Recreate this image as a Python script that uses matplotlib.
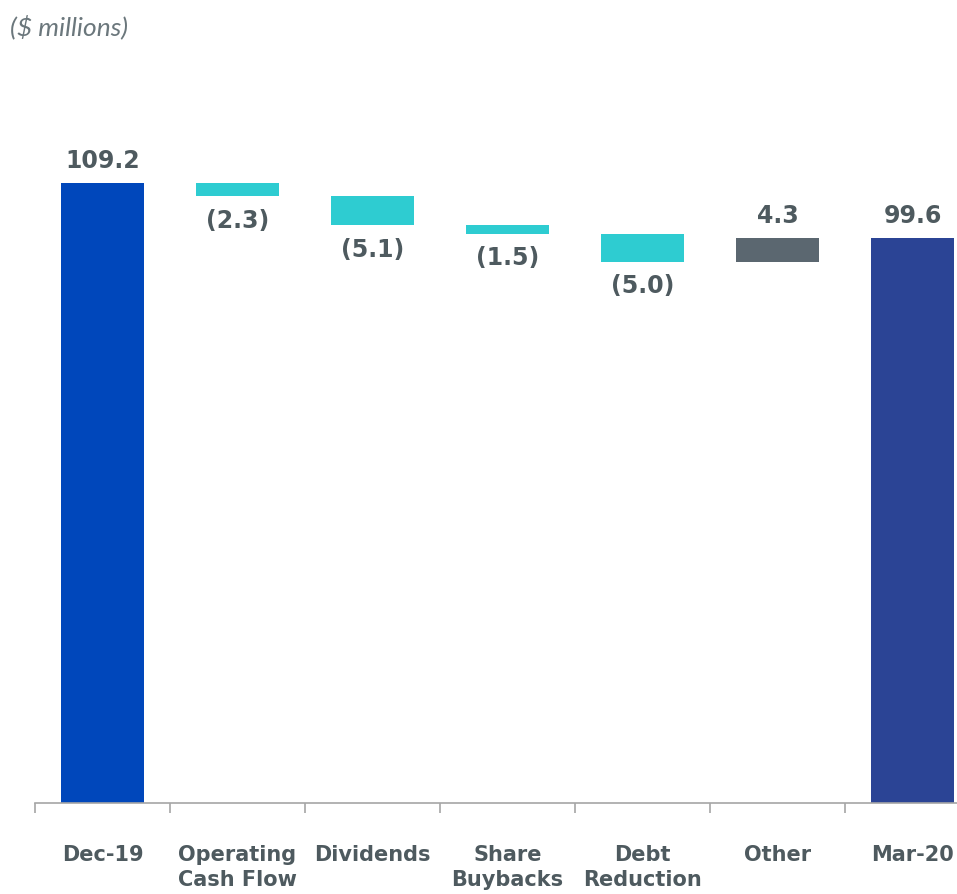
import numpy as np
import matplotlib.pyplot as plt
from matplotlib.ticker import FixedLocator

# waterfall data ($ millions)
categories = ['Dec-19', 'Operating\nCash Flow', 'Dividends', 'Share\nBuybacks',
              'Debt\nReduction', 'Other', 'Mar-20']
changes = [109.2, -2.3, -5.1, -1.5, -5.0, 4.3, 99.6]
value_labels = ['109.2', '(2.3)', '(5.1)', '(1.5)', '(5.0)', '4.3', '99.6']
kinds = ['total', 'delta', 'delta', 'delta', 'delta', 'delta', 'total']

text_col = '#4E5A5F'
colors = {'start': '#0047BB', 'end': '#2B4495', 'neg': '#2ECCD1', 'pos': '#5B6770'}

fig = plt.figure(figsize=(9.57, 8.94), dpi=100)
# axes run from the first category boundary past the right edge of the figure
ax = fig.add_axes([35 / 957, 91 / 894, 945 / 957, 803 / 894])

x = np.arange(len(categories))
running = 0.0
for i, (v, k) in enumerate(zip(changes, kinds)):
    if k == 'total':
        bottom, height = 0, v
        col = colors['start'] if i == 0 else colors['end']
        running = v
    else:
        bottom = running if v > 0 else running + v
        height = abs(v)
        col = colors['pos'] if v > 0 else colors['neg']
        running += v
    ax.bar(x[i], height, bottom=bottom, width=0.62, color=col, zorder=2)
    if v > 0:
        ax.annotate(value_labels[i], (x[i], bottom + height), xytext=(0, 7),
                    textcoords='offset points', ha='center', va='bottom',
                    fontsize=17, fontweight='bold', color=text_col)
    else:
        ax.annotate(value_labels[i], (x[i], bottom), xytext=(0, -9),
                    textcoords='offset points', ha='center', va='top',
                    fontsize=17, fontweight='bold', color=text_col)

ax.set_xlim(-0.5, len(categories) - 0.5)
ax.set_ylim(0, 109.2 * 803 / 620)

for s in ['top', 'right', 'left']:
    ax.spines[s].set_visible(False)
ax.spines['bottom'].set_color('#A6A6A6')
ax.spines['bottom'].set_linewidth(1.2)
ax.set_yticks([])

ax.set_xticks(x)
ax.set_xticklabels(categories, fontsize=15, fontweight='bold', color=text_col,
                   linespacing=1.35, va='top')
ax.tick_params(axis='x', which='major', length=0, pad=30)
ax.xaxis.set_minor_locator(FixedLocator(np.arange(-0.5, len(categories), 1)))
ax.tick_params(axis='x', which='minor', length=7, color='#A6A6A6', width=1.2)

fig.text(10 / 957, 1 - 27 / 894, '($ millions)', fontsize=19, style='italic',
         color='#6B777C', va='center', ha='left', family='Lato')

fig.savefig('out.png', dpi=100)
